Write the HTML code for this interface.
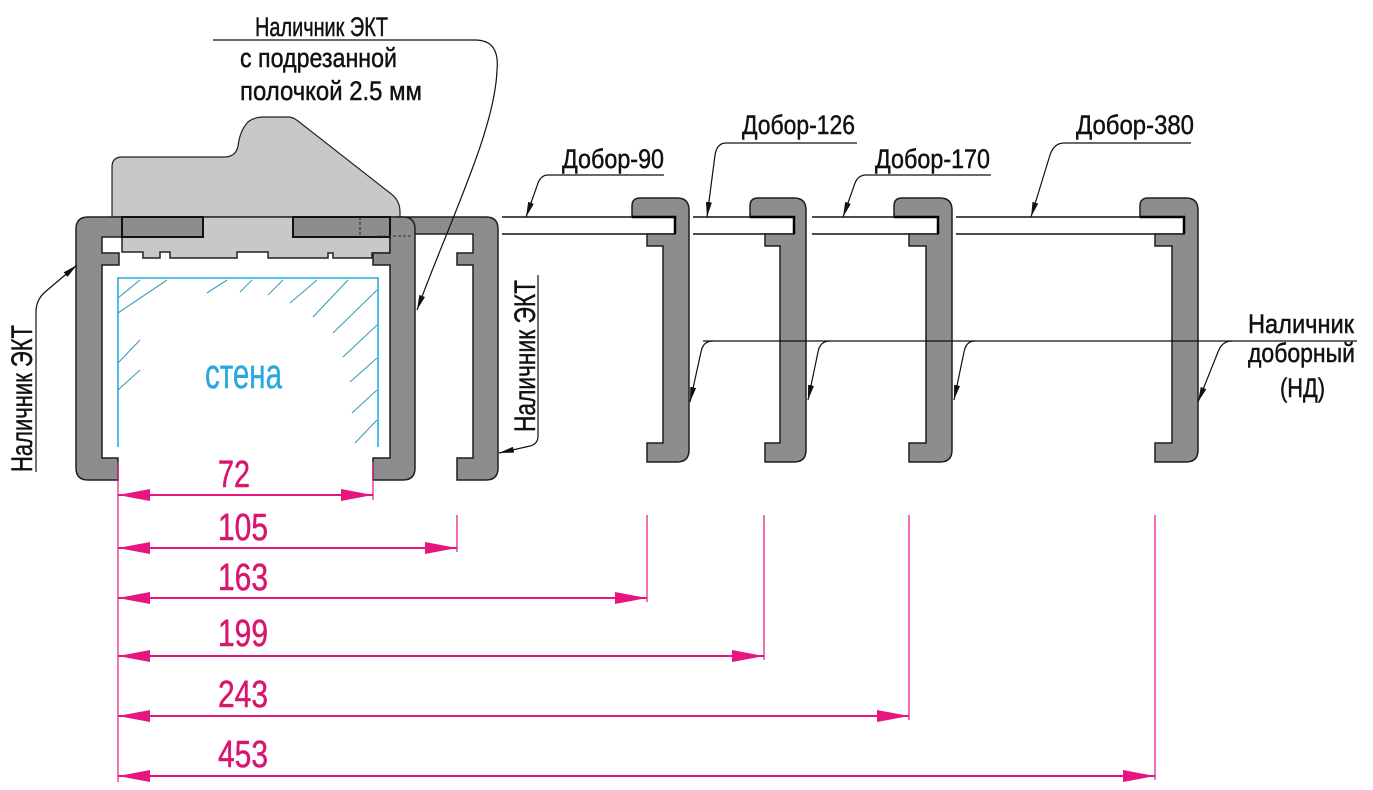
<!DOCTYPE html>
<html><head><meta charset="utf-8"><style>
html,body{margin:0;padding:0;background:#fff;}
svg{display:block;}
text{font-family:"Liberation Sans Narrow","Liberation Sans",sans-serif;}
</style></head><body>
<svg width="1373" height="790" viewBox="0 0 1373 790" xmlns="http://www.w3.org/2000/svg">
<defs>
<marker id="ab" viewBox="0 0 15 6" refX="15" refY="3" markerWidth="15" markerHeight="6" markerUnits="userSpaceOnUse" orient="auto"><path d="M0,0 L15,3 L0,6 Z" fill="#111"/></marker>
<marker id="am" viewBox="0 0 32 12" refX="32" refY="6" markerWidth="32" markerHeight="12" markerUnits="userSpaceOnUse" orient="auto-start-reverse"><path d="M0,0 L32,6 L0,12 Z" fill="#e6157f"/></marker>
</defs>
<rect width="1373" height="790" fill="#fff"/>

<!-- light gray frame -->
<path d="M112,217 V167 Q112,157 122,157 H224 Q236,157 238,146 Q240,130 248,122 Q254,117 264,117 H288 Q293,117 298,121 L390,193 Q400,200 400,212 V217 Z" fill="#c8c8c8" stroke="#222" stroke-width="1.2"/>
<path d="M122,217 H390 V253 H372 V258 H333 V253 H328 V258 H268 V252 H237 V258 H170 V252 H160 V258 H155 V258 H143 V252 H122 Z" fill="#c8c8c8" stroke="#222" stroke-width="1.5"/>

<!-- third casing (right ЭКТ) -->
<path d="M398,217 H486 Q498,217 498,229 V468 Q498,480 486,480 H457 V458 H473 V265 H457 V253 H473 V234 H398 Z" fill="#8d8d90" stroke="#1e1e1e" stroke-width="1.5"/>
<!-- right inner casing -->
<path d="M293,217 H403 Q415,217 415,229 V468 Q415,480 403,480 H373 V458 H390 V265 H373 V253 H390 V237 H293 Z" fill="#8d8d90" stroke="#1e1e1e" stroke-width="1.5"/>
<rect x="293" y="217" width="97" height="20" fill="#8d8d90" stroke="#111" stroke-width="2"/>
<line x1="360" y1="217" x2="360" y2="237" stroke="#222" stroke-width="1" stroke-dasharray="3,2"/>
<line x1="378" y1="236" x2="413" y2="236" stroke="#333" stroke-width="1" stroke-dasharray="3,2"/>
<!-- left casing -->
<path d="M76,229 Q76,217 88,217 H203 V237 H102 V253 H119 V265 H102 V458 H118 V480 H88 Q76,480 76,468 Z" fill="#8d8d90" stroke="#1e1e1e" stroke-width="1.5"/>
<rect x="122" y="217" width="81" height="20" fill="#8d8d90" stroke="#111" stroke-width="2"/>

<!-- wall -->
<path d="M118,447 V278 H378 V447" fill="none" stroke="#29abe2" stroke-width="1.6"/>
<g stroke="#3e9cc0" stroke-width="1.1">
<line x1="118" y1="313" x2="167" y2="280"/>
<line x1="118" y1="298" x2="140" y2="280"/>
<line x1="207" y1="293" x2="227" y2="280"/>
<line x1="240" y1="292" x2="252" y2="280"/>
<line x1="268" y1="295" x2="283" y2="280"/>
<line x1="290" y1="303" x2="317" y2="280"/>
<line x1="313" y1="317" x2="348" y2="280"/>
<line x1="333" y1="333" x2="377" y2="290"/>
<line x1="343" y1="357" x2="377" y2="325"/>
<line x1="350" y1="382" x2="377" y2="358"/>
<line x1="352" y1="413" x2="377" y2="390"/>
<line x1="355" y1="443" x2="377" y2="420"/>
<line x1="118" y1="363" x2="140" y2="340"/>
<line x1="118" y1="390" x2="140" y2="370"/>
</g>
<text x="205" y="388" font-size="42" fill="#2aa7de" stroke="#2aa7de" stroke-width="0.4" textLength="77" lengthAdjust="spacingAndGlyphs">стена</text>

<!-- strips -->
<g fill="#fff" stroke="#111" stroke-width="1.5">
<path d="M502,217 H675 M502,234 H675"/>
<path d="M693,217 H794 M693,234 H794"/>
<path d="M812,217 H938 M812,234 H938"/>
<path d="M956,217 H1184 M956,234 H1184"/>
</g>

<!-- profiles НД -->
<g fill="#8d8d90" stroke="#1e1e1e" stroke-width="1.5">
<path d="M640,198 H677 Q689,198 689,210 V450 Q689,462 677,462 H647 V443 H663 V246 H647 V234 H675 V217 H632 V206 Q632,198 640,198 Z"/>
<path d="M758,198 H794 Q806,198 806,210 V450 Q806,462 794,462 H765 V443 H780 V246 H765 V234 H794 V217 H750 V206 Q750,198 758,198 Z"/>
<path d="M902,198 H940 Q952,198 952,210 V450 Q952,462 940,462 H909 V443 H926 V246 H909 V234 H938 V217 H894 V206 Q894,198 902,198 Z"/>
<path d="M1148,198 H1186 Q1198,198 1198,210 V450 Q1198,462 1186,462 H1155 V443 H1172 V246 H1155 V234 H1184 V217 H1140 V206 Q1140,198 1148,198 Z"/>
</g>
<g stroke="#000" stroke-width="2.5" fill="none">
<path d="M632,217 H675 V234"/>
<path d="M750,217 H794 V234"/>
<path d="M894,217 H938 V234"/>
<path d="M1140,217 H1184 V234"/>
</g>

<!-- leaders -->
<g fill="none" stroke="#111" stroke-width="1.2">
<path d="M213,40 H475 Q500,40 497,70 C495,130 450,220 417,310" marker-end="url(#ab)"/>
<path d="M664,175 H548 Q540,175 537,186 L526,217" marker-end="url(#ab)"/>
<path d="M857,143 H726 Q717,143 715,155 L707,217" marker-end="url(#ab)"/>
<path d="M991,175 H866 Q857,175 854,186 L843,217" marker-end="url(#ab)"/>
<path d="M1191,143 H1064 Q1054,143 1050,155 L1031,217" marker-end="url(#ab)"/>
<path d="M703,341 H1357"/>
<path d="M713,341 Q703,341 701,352 L690,402" marker-end="url(#ab)"/>
<path d="M830,341 Q820,341 818,352 L808,400" marker-end="url(#ab)"/>
<path d="M975,341 Q966,341 964,352 L954,400" marker-end="url(#ab)"/>
<path d="M1232,341 Q1222,341 1218,352 L1198,402" marker-end="url(#ab)"/>
<path d="M36,472 V312 Q36,300 45,292 L77,265" marker-end="url(#ab)"/>
<path d="M538,275 V436 Q538,444 530,446 L499,453" marker-end="url(#ab)"/>
</g>

<!-- labels -->
<g fill="#111" stroke="#111" stroke-width="0.45" font-size="27">
<text x="255" y="36" textLength="133" lengthAdjust="spacingAndGlyphs">Наличник ЭКТ</text>
<text x="240" y="67" textLength="157" lengthAdjust="spacingAndGlyphs">с подрезанной</text>
<text x="240" y="100" textLength="182" lengthAdjust="spacingAndGlyphs">полочкой 2.5 мм</text>
<text x="562" y="168" textLength="102" lengthAdjust="spacingAndGlyphs">Добор-90</text>
<text x="742" y="134" textLength="113" lengthAdjust="spacingAndGlyphs">Добор-126</text>
<text x="875" y="168" textLength="115" lengthAdjust="spacingAndGlyphs">Добор-170</text>
<text x="1076" y="134" textLength="118" lengthAdjust="spacingAndGlyphs">Добор-380</text>
<text x="1248" y="333" textLength="106" lengthAdjust="spacingAndGlyphs">Наличник</text>
<text x="1248" y="362" textLength="107" lengthAdjust="spacingAndGlyphs">доборный</text>
<text x="1280" y="397" textLength="45" lengthAdjust="spacingAndGlyphs">(НД)</text>
<text transform="translate(32,472) rotate(-90)" font-size="30" textLength="147" lengthAdjust="spacingAndGlyphs">Наличник ЭКТ</text>
<text transform="translate(535,432) rotate(-90)" font-size="30" textLength="152" lengthAdjust="spacingAndGlyphs">Наличник ЭКТ</text>
</g>

<!-- dimensions -->
<g stroke="#e6157f" stroke-width="1.2" fill="none">
<line x1="118" y1="462" x2="118" y2="782"/>
<line x1="373" y1="462" x2="373" y2="500"/>
<line x1="457" y1="515" x2="457" y2="552"/>
<line x1="647" y1="515" x2="647" y2="602"/>
<line x1="764" y1="515" x2="764" y2="660"/>
<line x1="909" y1="515" x2="909" y2="720"/>
<line x1="1155" y1="515" x2="1155" y2="780"/>
</g>
<g stroke="#e6157f" stroke-width="2" fill="none">
<line x1="118" y1="495" x2="373" y2="495" marker-start="url(#am)" marker-end="url(#am)"/>
<line x1="118" y1="548" x2="457" y2="548" marker-start="url(#am)" marker-end="url(#am)"/>
<line x1="118" y1="598" x2="647" y2="598" marker-start="url(#am)" marker-end="url(#am)"/>
<line x1="118" y1="656" x2="764" y2="656" marker-start="url(#am)" marker-end="url(#am)"/>
<line x1="118" y1="716" x2="909" y2="716" marker-start="url(#am)" marker-end="url(#am)"/>
<line x1="118" y1="776" x2="1155" y2="776" marker-start="url(#am)" marker-end="url(#am)"/>
</g>
<g fill="#d8166f" stroke="#d8166f" stroke-width="0.5" font-size="38">
<text x="218" y="487" textLength="32" lengthAdjust="spacingAndGlyphs">72</text>
<text x="218" y="540" textLength="50" lengthAdjust="spacingAndGlyphs">105</text>
<text x="218" y="590" textLength="50" lengthAdjust="spacingAndGlyphs">163</text>
<text x="218" y="646" textLength="50" lengthAdjust="spacingAndGlyphs">199</text>
<text x="218" y="707" textLength="50" lengthAdjust="spacingAndGlyphs">243</text>
<text x="218" y="767" textLength="50" lengthAdjust="spacingAndGlyphs">453</text>
</g>
</svg>
</body></html>
